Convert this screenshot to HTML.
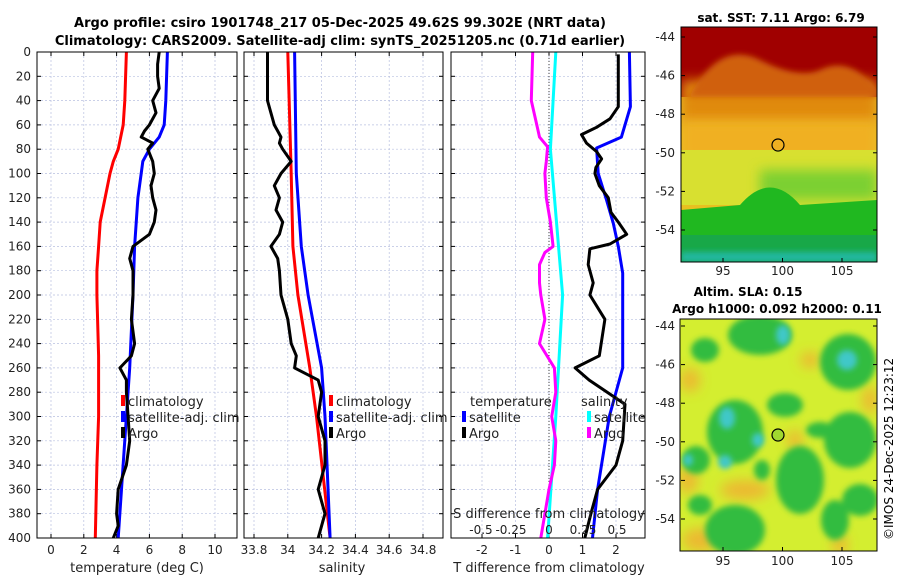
<!DOCTYPE html>
<html><head><meta charset="utf-8">
<style>
body{margin:0;background:#fff;}
svg{display:block;font-family:"DejaVu Sans","Liberation Sans",sans-serif;}
</style></head>
<body>
<svg id="fig" width="900" height="580" viewBox="0 0 900 580" xmlns="http://www.w3.org/2000/svg">
<defs>
<filter id="blur6" x="-50%" y="-50%" width="200%" height="200%"><feGaussianBlur stdDeviation="6"/></filter>
<filter id="blur3" x="-50%" y="-50%" width="200%" height="200%"><feGaussianBlur stdDeviation="3"/></filter>
<clipPath id="cm1"><rect x="681" y="27" width="196" height="235"/></clipPath>
<clipPath id="cm2"><rect x="680" y="319" width="197" height="232"/></clipPath>
</defs>
<text x="340" y="27" text-anchor="middle" font-size="13" font-weight="bold">Argo profile: csiro 1901748_217 05-Dec-2025 49.62S 99.302E (NRT data)</text>
<text x="340" y="45" text-anchor="middle" font-size="13" font-weight="bold">Climatology: CARS2009. Satellite-adj clim: synTS_20251205.nc (0.71d earlier)</text>

<!-- map 1 -->
<g clip-path="url(#cm1)">
<rect x="681" y="27" width="196" height="235" fill="#e8c020"/>
<rect x="681" y="27" width="196" height="70" fill="#a00000"/>
<rect x="681" y="80" width="196" height="45" fill="#e08a10" filter="url(#blur6)"/>
<path d="M690 95 Q720 40 760 60 Q800 80 820 70 Q850 55 877 90 L877 97 L681 97Z" fill="#d06010" filter="url(#blur3)"/>
<rect x="681" y="120" width="196" height="40" fill="#f0b020" filter="url(#blur6)"/>
<rect x="681" y="150" width="196" height="55" fill="#d8e030"/>
<rect x="760" y="170" width="117" height="30" fill="#7cd030" filter="url(#blur6)"/>
<path d="M681 210 L740 205 Q770 170 800 205 L877 200 L877 262 L681 262Z" fill="#20b820"/>
<rect x="681" y="235" width="196" height="27" fill="#18a848"/>
<rect x="681" y="252" width="196" height="10" fill="#20b8a0" filter="url(#blur3)"/>
</g>
<rect x="681" y="27" width="196" height="235" fill="none" stroke="#000" stroke-width="1"/>
<circle cx="778" cy="145" r="6" fill="none" stroke="#000" stroke-width="1.2"/>
<text x="781" y="22" text-anchor="middle" font-size="12" font-weight="bold">sat. SST: 7.11 Argo: 6.79</text>

<!-- map 2 -->
<g clip-path="url(#cm2)">
<rect x="680" y="319" width="197" height="232" fill="#d4ee30"/>
<g fill="#f0b030" filter="url(#blur6)" opacity="0.85">
<ellipse cx="745" cy="490" rx="25" ry="10"/><ellipse cx="688" cy="480" rx="10" ry="14"/>
<ellipse cx="700" cy="540" rx="18" ry="12"/><ellipse cx="840" cy="545" rx="8" ry="10"/>
<ellipse cx="690" cy="380" rx="10" ry="12"/><ellipse cx="795" cy="440" rx="8" ry="10"/>
<ellipse cx="870" cy="400" rx="8" ry="14"/><ellipse cx="810" cy="360" rx="10" ry="8"/>
</g>
<g fill="#30bc40" filter="url(#blur3)">
<ellipse cx="760" cy="335" rx="32" ry="20"/><ellipse cx="705" cy="350" rx="14" ry="12"/>
<ellipse cx="848" cy="362" rx="28" ry="28"/><ellipse cx="785" cy="405" rx="18" ry="12"/>
<ellipse cx="735" cy="432" rx="28" ry="32"/><ellipse cx="696" cy="460" rx="14" ry="14"/>
<ellipse cx="850" cy="440" rx="26" ry="28"/><ellipse cx="820" cy="430" rx="14" ry="8"/>
<ellipse cx="800" cy="480" rx="24" ry="34"/><ellipse cx="835" cy="520" rx="14" ry="20"/>
<ellipse cx="735" cy="530" rx="30" ry="25"/><ellipse cx="860" cy="500" rx="18" ry="16"/>
<ellipse cx="700" cy="505" rx="12" ry="10"/><ellipse cx="762" cy="470" rx="8" ry="10"/>
</g>
<g fill="#40c8c8" filter="url(#blur3)">
<ellipse cx="783" cy="335" rx="7" ry="10"/><ellipse cx="847" cy="360" rx="10" ry="10"/>
<ellipse cx="727" cy="418" rx="8" ry="11"/><ellipse cx="725" cy="462" rx="7" ry="7"/>
<ellipse cx="758" cy="440" rx="6" ry="7"/><ellipse cx="688" cy="460" rx="5" ry="6"/>
</g>
</g>
<rect x="680" y="319" width="197" height="232" fill="none" stroke="#000" stroke-width="1"/>
<circle cx="778" cy="435" r="6" fill="#a0d830" stroke="#000" stroke-width="1.2"/>
<text x="748" y="296" text-anchor="middle" font-size="12" font-weight="bold">Altim. SLA: 0.15</text>
<text x="777" y="313" text-anchor="middle" font-size="12" font-weight="bold">Argo h1000: 0.092 h2000: 0.11</text>
<text transform="translate(893,540) rotate(-90)" font-size="12">©IMOS 24-Dec-2025 12:23:12</text>
<g id="plots"></g>
</svg>
<script>
const depths = [0,10,20,30,40,50,60,65,70,75,80,90,100,110,120,130,140,150,160,170,180,200,220,240,250,260,270,280,300,320,340,360,380,390,400];
const depthTicks = [0,20,40,60,80,100,120,140,160,180,200,220,240,260,280,300,320,340,360,380,400];
const tClimDepth = [0,40,60,80,90,100,120,140,160,180,200,250,280,300,340,400];
const tClim = [4.6,4.5,4.4,4.1,3.8,3.6,3.3,3.0,2.9,2.8,2.8,2.9,2.9,2.9,2.8,2.7];
const tSatDepth = [0,40,60,70,80,90,100,120,160,200,260,300,360,400];
const tSat = [7.1,7.0,6.9,6.6,6.0,5.6,5.5,5.3,5.1,5.0,4.8,4.6,4.3,4.1];
const tArgo = [6.6,6.5,6.5,6.6,6.2,6.4,6.0,5.7,5.5,6.2,5.9,6.2,6.3,6.1,6.2,6.4,6.3,6.0,5.0,4.8,5.0,5.0,4.9,5.1,4.9,4.2,4.6,4.6,4.7,4.8,4.6,4.1,4.0,4.1,3.8];
const sClimDepth = [0,100,160,200,260,300,400];
const sClim = [34.0,34.02,34.03,34.06,34.13,34.17,34.25];
const sSatDepth = [0,100,160,200,260,300,400];
const sSat = [34.04,34.05,34.08,34.12,34.2,34.22,34.25];
const sArgo = [33.88,33.88,33.88,33.88,33.88,33.9,33.92,33.94,33.96,33.95,33.97,34.02,33.96,33.92,33.95,33.93,33.97,33.95,33.9,33.94,33.95,33.96,34.0,34.02,34.05,34.04,34.18,34.2,34.18,34.22,34.22,34.18,34.22,34.2,34.18];
const dtDepthSat = [0,45,70,79,100,122,141,160,182,201,260,300,360,400];
const dtSat = [2.4,2.43,2.16,1.42,1.47,1.72,1.92,2.07,2.2,2.2,2.2,1.8,1.45,1.3];
const dtDepthArgo = [2,45,55,62,68,75,82,88,95,100,110,120,132,140,150,158,162,175,190,200,220,250,260,270,290,320,340,360,380,400];
const dtArgo = [2.07,2.07,1.82,1.42,0.97,1.12,1.42,1.57,1.4,1.37,1.5,1.77,1.85,2.07,2.32,1.82,1.22,1.17,1.32,1.22,1.67,1.5,0.78,1.2,2.27,2.2,2.0,1.45,1.25,1.07];
const dsDepthSat = [0,80,200,300,400];
const dsSat = [0.05,0.01,0.1,0.05,-0.01];
const dsDepthArgo = [0,40,60,70,78,90,100,120,140,160,165,175,190,200,220,240,260,280,300,320,340,360,380,400];
const dsArgo = [-0.12,-0.13,-0.09,-0.07,-0.01,-0.02,-0.03,-0.02,0.01,0.03,-0.03,-0.07,-0.07,-0.06,-0.03,-0.07,0.04,0.05,0.02,0.05,0.04,0,-0.03,-0.06];
const tTicks = [0,2,4,6,8,10];
const sTicks = [33.8,34,34.2,34.4,34.6,34.8];
const dTTicks = [-2,-1,0,1,2];
const dSTicks = [-0.5,-0.25,0,0.25,0.5];
const dSTickLabels = ['-0.5','-0.25','0','0.25','0.5'];
const mapLatTicks = [-44,-46,-48,-50,-52,-54];
const mapLonTicks = [95,100,105];

const NS='http://www.w3.org/2000/svg';
const G=document.getElementById('plots');
const Y0=52, Y1=538;
const yD=d=>Y0+(d/400)*(Y1-Y0);
function mk(tag,attrs,parent){const e=document.createElementNS(NS,tag);for(const k in attrs)e.setAttribute(k,attrs[k]);(parent||G).appendChild(e);return e;}
function txt(x,y,s,anchor,size,name){const e=mk('text',{x:x,y:y,'text-anchor':anchor||'middle','font-size':size||12,fill:'#222'});e.textContent=s;


return e;}
const xT=v=>51+v*16.4;
const xS=v=>254+(v-33.8)*169;
const xDT=v=>549+v*33.5;
const xDS=v=>549+v*136;
const panels=[{x:37,w:200,name:'temperature-panel'},{x:244,w:199,name:'salinity-panel'},{x:451,w:194,name:'difference-panel'}];
function grid(p,xs){xs.forEach(x=>{const l=mk('line',{x1:x,x2:x,y1:Y0,y2:Y1,stroke:'#b8c0e0','stroke-width':0.7,'stroke-dasharray':'2,2'});

});
depthTicks.forEach(d=>{const l=mk('line',{x1:p.x,x2:p.x+p.w,y1:yD(d),y2:yD(d),stroke:'#b8c0e0','stroke-width':0.7,'stroke-dasharray':'2,2'});


mk('line',{x1:p.x,x2:p.x+4,y1:yD(d),y2:yD(d),stroke:'#000'});mk('line',{x1:p.x+p.w-4,x2:p.x+p.w,y1:yD(d),y2:yD(d),stroke:'#000'});});
xs.forEach(x=>{mk('line',{x1:x,x2:x,y1:Y1,y2:Y1-4,stroke:'#000'});mk('line',{x1:x,x2:x,y1:Y0,y2:Y0+4,stroke:'#000'});});}
function line(ds,vs,xf,color,w,name){const pts=ds.map((d,i)=>xf(vs[i]).toFixed(1)+','+yD(d).toFixed(1)).join(' ');
const e=mk('polyline',{points:pts,fill:'none',stroke:color,'stroke-width':w,'stroke-linejoin':'round'});

}
function frame(p){const r=mk('rect',{x:p.x,y:Y0,width:p.w,height:Y1-Y0,fill:'none',stroke:'#000','stroke-width':1});

}
function legendItem(x,y,color,label,name){const r=mk('rect',{x:x,y:y-11,width:4,height:11,fill:color});


txt(x+7,y,label,'start',13,name);}

// panel 1
grid(panels[0],tTicks.map(xT));
line(tClimDepth,tClim,xT,'#ff0000',3,'temp-climatology-line');
line(tSatDepth,tSat,xT,'#0000ff',3,'temp-satellite-line');
line(depths,tArgo,xT,'#000',3,'temp-argo-line');
frame(panels[0]);
tTicks.forEach(v=>txt(xT(v),554,String(v),'middle',12,'temp-tick-label'));
depthTicks.forEach(d=>txt(31,yD(d)+4,String(d),'end',12,'depth-tick-label'));
txt(137,572,'temperature (deg C)','middle',13,'temp-axis-title');
legendItem(121,406,'#ff0000','climatology','temp-legend-climatology');
legendItem(121,422,'#0000ff','satellite-adj. clim','temp-legend-satellite');
legendItem(121,438,'#000','Argo','temp-legend-argo');

// panel 2
grid(panels[1],sTicks.map(xS));
line(sClimDepth,sClim,xS,'#ff0000',3,'sal-climatology-line');
line(sSatDepth,sSat,xS,'#0000ff',3,'sal-satellite-line');
line(depths,sArgo,xS,'#000',3,'sal-argo-line');
frame(panels[1]);
sTicks.forEach(v=>txt(xS(v),554,String(v),'middle',12,'sal-tick-label'));
txt(342,572,'salinity','middle',13,'sal-axis-title');
legendItem(329,406,'#ff0000','climatology','sal-legend-climatology');
legendItem(329,422,'#0000ff','satellite-adj. clim','sal-legend-satellite');
legendItem(329,438,'#000','Argo','sal-legend-argo');

// panel 3
grid(panels[2],dTTicks.map(xDT));
const zl=mk('line',{x1:xDT(0),x2:xDT(0),y1:Y0,y2:Y1,stroke:'#444','stroke-width':1,'stroke-dasharray':'1,2'});


line(dsDepthSat,dsSat,xDS,'#00ffff',3,'sdiff-satellite-line');
line(dsDepthArgo,dsArgo,xDS,'#ff00ff',3,'sdiff-argo-line');
line(dtDepthSat,dtSat,xDT,'#0000ff',3,'tdiff-satellite-line');
line(dtDepthArgo,dtArgo,xDT,'#000',3,'tdiff-argo-line');
frame(panels[2]);
dTTicks.forEach(v=>txt(xDT(v),554,String(v),'middle',12,'tdiff-tick-label'));
dSTicks.forEach((v,i)=>txt(xDS(v)+(i==1?-4:0),534,dSTickLabels[i],'middle',12,'sdiff-tick-label'));
txt(549,518,'S difference from climatology','middle',13,'sdiff-axis-title');
txt(549,572,'T difference from climatology','middle',13,'tdiff-axis-title');
txt(470,406,'temperature','start',13,'diff-legend-temperature-header');
legendItem(462,422,'#0000ff','satellite','tdiff-legend-satellite');
legendItem(462,438,'#000','Argo','tdiff-legend-argo');
txt(581,406,'salinity','start',13,'diff-legend-salinity-header');
legendItem(587,422,'#00ffff','satellite','sdiff-legend-satellite');
legendItem(587,438,'#ff00ff','Argo','sdiff-legend-argo');

// map axes
const yLat1=v=>37+(-44-v)*19.3, yLat2=v=>326+(-44-v)*19.3, xLon=v=>723+(v-95)*11.9;
[[yLat1,262,'sst',275],[yLat2,551,'sla',565]].forEach(([yf,bot,nm,ly])=>{
mapLatTicks.forEach(v=>{txt(675,yf(v)+4,String(v),'end',12,nm+'-lat-tick-label');mk('line',{x1:681,x2:685,y1:yf(v),y2:yf(v),stroke:'#000'});mk('line',{x1:873,x2:877,y1:yf(v),y2:yf(v),stroke:'#000'});});
mapLonTicks.forEach(v=>{txt(xLon(v),ly,String(v),'middle',12,nm+'-lon-tick-label');mk('line',{x1:xLon(v),x2:xLon(v),y1:bot,y2:bot-4,stroke:'#000'});});
});
</script>
</body></html>
